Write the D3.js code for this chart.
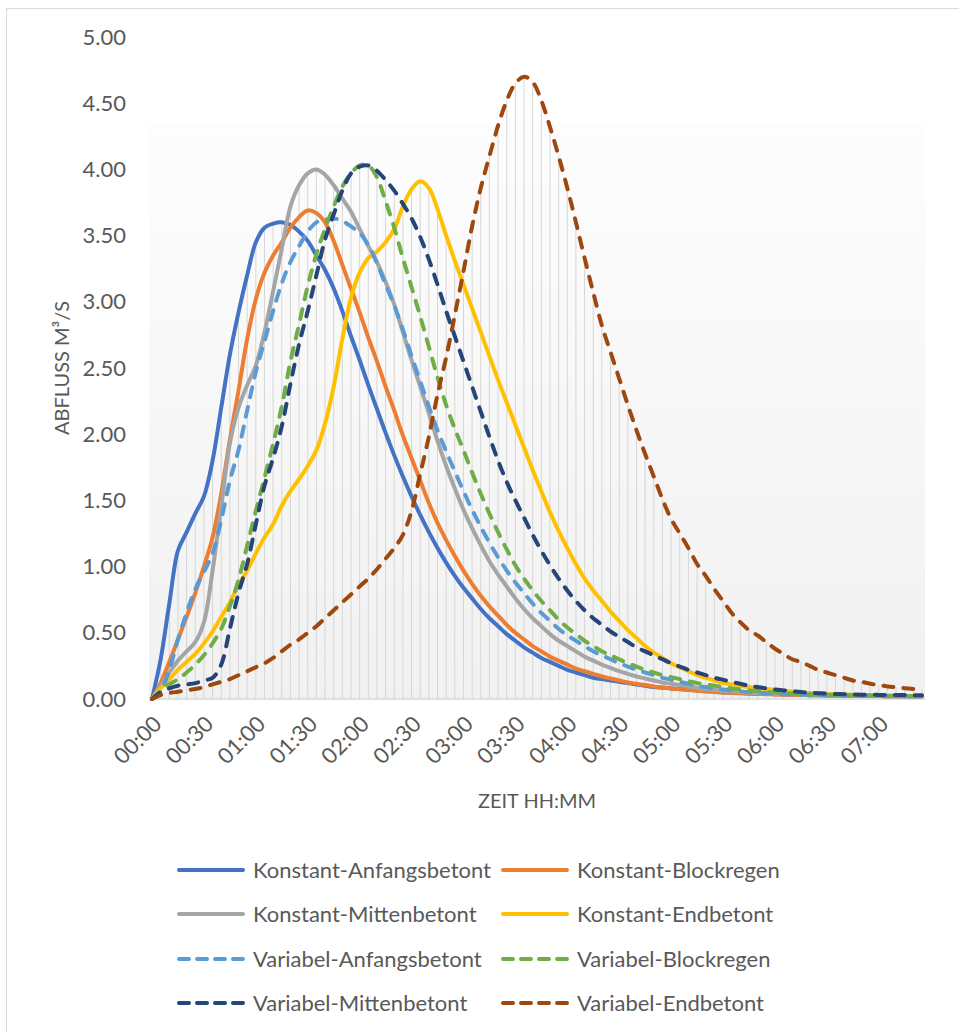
<!DOCTYPE html>
<html>
<head>
<meta charset="utf-8">
<script src="https://cdn.jsdelivr.net/npm/d3@7"></script>
<style>
  html, body { margin: 0; padding: 0; background: #ffffff; }
  svg { display: block; }
  text { font-family: Lato, "Open Sans", sans-serif; fill: #595959; }
</style>
</head>
<body>
<svg id="chart" width="959" height="1032"></svg>
<script>
// ---------------- DATA ----------------
// categories: 5-minute steps from 00:00 to 07:25
const categories = d3.range(90).map(i => {
  const m = i * 5;
  return String(Math.floor(m / 60)).padStart(2, "0") + ":" + String(m % 60).padStart(2, "0");
});
const xTickLabels = ["00:00","00:30","01:00","01:30","02:00","02:30","03:00","03:30","04:00","04:30","05:00","05:30","06:00","06:30","07:00"];
const yTicks = [0, 0.5, 1, 1.5, 2, 2.5, 3, 3.5, 4, 4.5, 5];
const seriesNames = ["Konstant-Anfangsbetont","Konstant-Blockregen","Konstant-Mittenbetont","Konstant-Endbetont",
                     "Variabel-Anfangsbetont","Variabel-Blockregen","Variabel-Mittenbetont","Variabel-Endbetont"];

const konstantAnfangsbetont = [0,0.30,0.72,1.12,1.26,1.40,1.53,1.80,2.20,2.60,2.92,3.20,3.45,3.56,3.59,3.60,3.58,3.53,3.46,3.35,
  3.24,3.10,2.93,2.74,2.56,2.37,2.19,2.01,1.84,1.68,1.53,1.39,1.26,1.14,1.03,0.93,0.84,0.76,0.68,0.61,
  0.55,0.49,0.44,0.39,0.35,0.31,0.28,0.25,0.22,0.20,0.18,0.16,0.15,0.14,0.13,0.12,0.11,0.10,0.09,0.085,
  0.08,0.075,0.07,0.065,0.06,0.055,0.05,0.048,0.045,0.042,0.04,0.038,0.036,0.034,0.032,0.03,0.029,0.028,0.027,0.026,
  0.025,0.024,0.023,0.022,0.022,0.021,0.021,0.02,0.02,0.02];
const konstantBlockregen = [0,0.12,0.28,0.45,0.62,0.80,1.00,1.22,1.55,1.96,2.33,2.72,3.02,3.22,3.35,3.45,3.56,3.64,3.69,3.67,
  3.60,3.46,3.28,3.10,2.92,2.73,2.55,2.36,2.18,1.99,1.82,1.65,1.48,1.33,1.20,1.08,0.97,0.87,0.78,0.70,
  0.63,0.56,0.50,0.45,0.40,0.36,0.32,0.29,0.26,0.23,0.21,0.19,0.17,0.155,0.14,0.125,0.115,0.105,0.095,0.087,
  0.08,0.073,0.067,0.062,0.057,0.053,0.049,0.046,0.043,0.04,0.038,0.036,0.034,0.032,0.031,0.03,0.029,0.028,0.027,0.026,
  0.025,0.024,0.023,0.022,0.022,0.021,0.021,0.02,0.02,0.02];
const konstantMittenbetont = [0,0.10,0.20,0.29,0.36,0.43,0.58,0.97,1.45,1.93,2.20,2.37,2.52,2.77,3.08,3.40,3.72,3.88,3.97,4.00,
  3.96,3.88,3.78,3.68,3.55,3.42,3.30,3.15,2.98,2.77,2.56,2.36,2.16,1.95,1.76,1.59,1.43,1.29,1.16,1.04,
  0.94,0.85,0.76,0.68,0.61,0.55,0.49,0.44,0.40,0.36,0.32,0.29,0.26,0.235,0.21,0.19,0.17,0.155,0.14,0.125,
  0.115,0.105,0.095,0.085,0.075,0.068,0.062,0.057,0.052,0.048,0.045,0.042,0.04,0.038,0.036,0.034,0.032,0.031,0.03,0.029,
  0.028,0.027,0.026,0.025,0.024,0.023,0.022,0.022,0.021,0.02];
const konstantEndbetont = [0,0.08,0.15,0.22,0.28,0.34,0.42,0.51,0.62,0.73,0.86,0.97,1.10,1.22,1.32,1.46,1.57,1.66,1.76,1.88,
  2.08,2.36,2.72,3.03,3.22,3.33,3.38,3.45,3.55,3.72,3.85,3.91,3.86,3.70,3.50,3.31,3.13,2.95,2.77,2.59,
  2.41,2.24,2.07,1.90,1.73,1.57,1.41,1.27,1.14,1.02,0.91,0.82,0.74,0.66,0.59,0.52,0.46,0.40,0.35,0.31,
  0.27,0.24,0.21,0.18,0.16,0.14,0.12,0.11,0.10,0.09,0.08,0.075,0.07,0.062,0.056,0.05,0.046,0.042,0.039,0.036,
  0.034,0.032,0.03,0.028,0.027,0.026,0.025,0.024,0.023,0.022];
const variabelAnfangsbetont = [0,0.06,0.22,0.45,0.65,0.83,0.96,1.10,1.35,1.65,1.88,2.18,2.47,2.70,2.93,3.14,3.30,3.42,3.53,3.60,
  3.62,3.63,3.61,3.57,3.52,3.43,3.29,3.13,2.97,2.79,2.59,2.40,2.21,2.03,1.87,1.72,1.57,1.43,1.30,1.18,
  1.07,0.97,0.88,0.80,0.72,0.65,0.59,0.53,0.48,0.44,0.40,0.36,0.33,0.30,0.27,0.245,0.22,0.20,0.18,0.16,
  0.145,0.13,0.115,0.10,0.09,0.08,0.072,0.065,0.058,0.052,0.048,0.044,0.04,0.037,0.035,0.033,0.031,0.03,0.029,0.028,
  0.027,0.026,0.025,0.024,0.023,0.022,0.022,0.021,0.02,0.02];
const variabelBlockregen = [0,0.06,0.11,0.15,0.20,0.26,0.33,0.42,0.53,0.70,0.90,1.16,1.42,1.67,1.93,2.21,2.55,2.83,3.12,3.36,
  3.55,3.72,3.87,3.97,4.03,4.03,3.94,3.76,3.56,3.33,3.11,2.89,2.66,2.43,2.22,2.04,1.88,1.71,1.55,1.40,
  1.26,1.13,1.01,0.91,0.82,0.74,0.67,0.60,0.54,0.49,0.44,0.40,0.36,0.33,0.30,0.27,0.245,0.22,0.20,0.18,
  0.165,0.15,0.135,0.12,0.11,0.10,0.09,0.08,0.072,0.065,0.06,0.055,0.05,0.046,0.042,0.039,0.036,0.034,0.032,0.03,
  0.029,0.028,0.027,0.026,0.025,0.024,0.023,0.022,0.021,0.02];
const variabelMittenbetont = [0,0.05,0.08,0.10,0.11,0.12,0.14,0.16,0.26,0.53,0.80,1.02,1.32,1.61,1.82,2.06,2.38,2.68,2.93,3.20,
  3.47,3.66,3.84,3.97,4.02,4.03,3.99,3.92,3.84,3.74,3.63,3.49,3.32,3.13,2.93,2.74,2.55,2.36,2.17,1.98,
  1.80,1.64,1.50,1.37,1.24,1.12,1.01,0.91,0.82,0.74,0.67,0.61,0.56,0.51,0.47,0.43,0.39,0.36,0.33,0.30,
  0.27,0.245,0.22,0.20,0.18,0.16,0.145,0.13,0.115,0.10,0.09,0.08,0.072,0.065,0.058,0.052,0.048,0.044,0.04,0.038,
  0.036,0.034,0.033,0.032,0.031,0.03,0.03,0.03,0.029,0.029];
const variabelEndbetont = [0,0.03,0.045,0.055,0.065,0.075,0.09,0.11,0.13,0.15,0.18,0.21,0.24,0.27,0.31,0.36,0.41,0.45,0.50,0.55,
  0.61,0.67,0.73,0.79,0.85,0.91,0.98,1.06,1.14,1.24,1.42,1.70,1.98,2.30,2.58,2.90,3.23,3.57,3.86,4.10,
  4.33,4.52,4.65,4.70,4.66,4.52,4.32,4.10,3.86,3.60,3.33,3.07,2.82,2.62,2.42,2.22,2.03,1.85,1.68,1.51,
  1.36,1.25,1.14,1.02,0.93,0.83,0.74,0.65,0.58,0.52,0.48,0.43,0.38,0.34,0.30,0.28,0.25,0.22,0.20,0.18,
  0.16,0.14,0.13,0.115,0.105,0.095,0.088,0.082,0.076,0.07];

const seriesValues = [konstantAnfangsbetont, konstantBlockregen, konstantMittenbetont, konstantEndbetont,
                      variabelAnfangsbetont, variabelBlockregen, variabelMittenbetont, variabelEndbetont];
const seriesColors = ["#4472C4","#ED7D31","#A5A5A5","#FFC000","#5B9BD5","#70AD47","#264478","#9E480E"];
const seriesDashed = [false,false,false,false,true,true,true,true];

// ---------------- LAYOUT ----------------
const svg = d3.select("#chart");
const W = 959, H = 1032;
const plot = { left: 152, right: 922, top: 37, bottom: 699 };

// chart border
svg.append("rect").attr("x", 6.5).attr("y", 8.5).attr("width", W).attr("height", H)
  .attr("fill", "#ffffff").attr("stroke", "#d9d9d9").attr("stroke-width", 1);

const x = d3.scalePoint().domain(categories).range([plot.left, plot.right]);
const y = d3.scaleLinear().domain([0, 5]).range([plot.bottom, plot.top]);

// plot background gradient
const defs = svg.append("defs");
const grad = defs.append("linearGradient").attr("id", "bg")
  .attr("x1", "0%").attr("y1", "0%").attr("x2", "0%").attr("y2", "100%");
grad.append("stop").attr("offset", "0%").attr("stop-color", "#fdfdfd");
grad.append("stop").attr("offset", "100%").attr("stop-color", "#f1f1f1");
svg.append("rect").attr("x", 149).attr("y", 123).attr("width", 776).attr("height", plot.bottom - 123)
  .attr("fill", "url(#bg)");

// drop lines (from highest point at each category to axis)
const maxPerCat = categories.map((c, i) => d3.max(seriesValues, s => s[i]));
svg.append("g").selectAll("line").data(categories).join("line")
  .attr("x1", d => x(d)).attr("x2", d => x(d))
  .attr("y1", y(0)).attr("y2", (d, i) => y(maxPerCat[i]))
  .attr("stroke", "#d6d6d6").attr("stroke-width", 1);

// x axis line
svg.append("line").attr("x1", 149).attr("x2", 925).attr("y1", y(0)).attr("y2", y(0))
  .attr("stroke", "#d9d9d9").attr("stroke-width", 1.5);

// y axis labels
const yAxis = d3.axisLeft(y).tickValues(yTicks).tickFormat(d3.format(".2f")).tickSize(0).tickPadding(26);
const gy = svg.append("g").attr("transform", `translate(${plot.left},0)`).call(yAxis);
gy.select(".domain").remove();
gy.selectAll("text").attr("font-size", 22).attr("font-family", "Lato").attr("fill", "#595959");

// x axis labels
const xAxis = d3.axisBottom(x).tickValues(xTickLabels).tickSize(0).tickPadding(0);
const gx = svg.append("g").attr("transform", `translate(0,${plot.bottom})`).call(xAxis);
gx.select(".domain").remove();
gx.selectAll("text")
  .attr("font-size", 22).attr("font-family", "Lato").attr("fill", "#595959")
  .attr("text-anchor", "end")
  .attr("dy", "0.35em")
  .attr("transform", "translate(5,21) rotate(-45)");

// axis titles
svg.append("text").attr("transform", "translate(69,368) rotate(-90)")
  .attr("text-anchor", "middle").attr("font-size", 20).text("ABFLUSS M³/S");
svg.append("text").attr("x", 537).attr("y", 808)
  .attr("text-anchor", "middle").attr("font-size", 20).text("ZEIT HH:MM");

// series lines
const line = d3.line().x((d, i) => x(categories[i])).y(d => y(d)).curve(d3.curveCatmullRom.alpha(0.5));
seriesValues.forEach((vals, k) => {
  svg.append("path").datum(vals)
    .attr("d", line)
    .attr("fill", "none")
    .attr("stroke", seriesColors[k])
    .attr("stroke-width", 4)
    .attr("stroke-linecap", "round")
    .attr("stroke-linejoin", "round")
    .attr("stroke-dasharray", seriesDashed[k] ? "10,10" : null);
});

// legend
const legendRows = [870, 914, 959, 1003];
const legendCols = [{ lx: 177, tx: 253 }, { lx: 501, tx: 577 }];
seriesNames.forEach((name, k) => {
  const row = Math.floor(k / 2), col = k % 2;
  const yy = legendRows[row];
  const c = legendCols[col];
  svg.append("line").attr("x1", c.lx + 2).attr("x2", c.lx + 66).attr("y1", yy).attr("y2", yy)
    .attr("stroke", seriesColors[k]).attr("stroke-width", 4).attr("stroke-linecap", "round")
    .attr("stroke-dasharray", seriesDashed[k] ? "10,8" : null);
  svg.append("text").attr("x", c.tx).attr("y", yy).attr("dy", "0.35em")
    .attr("font-size", 22).text(name);
});
</script>
</body>
</html>
